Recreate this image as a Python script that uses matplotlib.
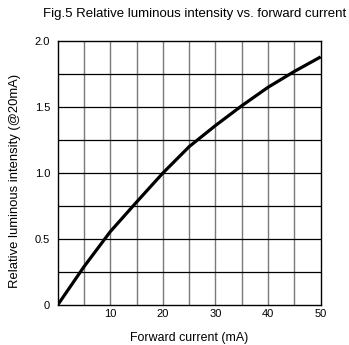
import matplotlib
matplotlib.use('Agg')
import matplotlib.pyplot as plt
import numpy as np

# значения
current = [0, 5, 10, 15, 20, 25, 30, 35, 40, 45, 50]
intensity = [0, 0.29, 0.556, 0.78, 1.0, 1.2, 1.36, 1.51, 1.65, 1.77, 1.88]
x_ticks = [10, 20, 30, 40, 50]
y_ticks = [0, 0.5, 1.0, 1.5, 2.0]
y_tick_labels = ['0', '0.5', '1.0', '1.5', '2.0']

plt.rcParams['font.family'] = ['Liberation Sans', 'DejaVu Sans']

fig = plt.figure(figsize=(3.49, 3.45), dpi=100)
ax = fig.add_axes([0.1653, 0.116, 0.7536, 0.765])

# сетка: вертикальные серые, горизонтальные чёрные
for xv in np.arange(5, 50, 5):
    ax.axvline(xv, color='#7a7a7a', lw=1.0, zorder=1)
for yv in np.arange(0.25, 2.0, 0.25):
    ax.axhline(yv, color='black', lw=0.9, zorder=1)

ax.plot(current, intensity, color='black', lw=2.3, zorder=3,
        solid_capstyle='butt', solid_joinstyle='round')

ax.set_xlim(0, 50)
ax.set_ylim(0, 2.0)
ax.set_xticks(x_ticks)
ax.set_yticks(y_ticks)
ax.set_yticklabels(y_tick_labels)
ax.tick_params(axis='x', length=0, labelsize=8, pad=3)
ax.tick_params(axis='y', length=0, labelsize=8, pad=5.5)
for s in ax.spines.values():
    s.set_linewidth(1.0)

ax.set_xlabel('Forward current (mA)', fontsize=8.9)
ax.set_ylabel('Relative luminous intensity (@20mA)', fontsize=9.4)
ax.xaxis.set_label_coords(0.5, -0.125)
ax.xaxis.label.set_va('center')
ax.yaxis.set_label_coords(-0.162, 0.47)
ax.yaxis.label.set_va('center')

fig.text(0.559, 0.959, 'Fig.5 Relative luminous intensity vs. forward current',
         fontsize=9.5, ha='center', va='center')

plt.savefig('out.png', dpi=100)
